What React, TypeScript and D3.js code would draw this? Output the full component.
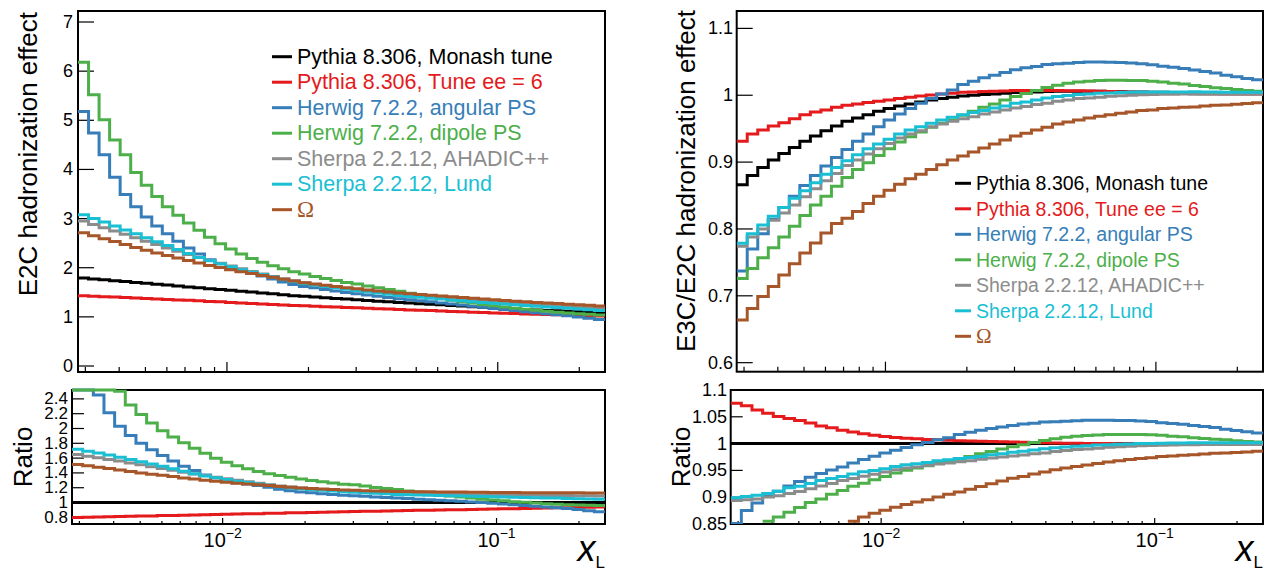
import React from "react";
import * as d3 from "d3";

// ---------- DATA ----------
const LOG_MIN = -2.55;
const LOG_MAX = -0.604;
const NBINS = 50;
const binEdges: number[] = d3.range(NBINS + 1).map((i) => Math.pow(10, LOG_MIN + ((LOG_MAX - LOG_MIN) * i) / NBINS));

const seriesNames = [
  "Pythia 8.306, Monash tune",
  "Pythia 8.306, Tune ee = 6",
  "Herwig 7.2.2, angular PS",
  "Herwig 7.2.2, dipole PS",
  "Sherpa 2.2.12, AHADIC++",
  "Sherpa 2.2.12, Lund",
  "Ω",
];
const seriesColors = ["#000000", "#e41a1c", "#377eb8", "#4daf4a", "#8c8c8c", "#1abfd3", "#a65628"];

// E2C hadronization effect
const e2cMonash = [
  1.790, 1.772, 1.754, 1.736, 1.718, 1.700, 1.682, 1.664, 1.646, 1.628,
  1.610, 1.592, 1.574, 1.557, 1.540, 1.522, 1.504, 1.486, 1.468, 1.450,
  1.432, 1.418, 1.404, 1.390, 1.376, 1.362, 1.348, 1.334, 1.320, 1.306,
  1.292, 1.280, 1.268, 1.256, 1.244, 1.232, 1.220, 1.208, 1.196, 1.184,
  1.172, 1.162, 1.152, 1.142, 1.132, 1.122, 1.112, 1.102, 1.092, 1.082,
];
const e2cTuneEE = [
  1.430, 1.421, 1.411, 1.402, 1.392, 1.383, 1.374, 1.364, 1.355, 1.345,
  1.336, 1.326, 1.315, 1.305, 1.294, 1.284, 1.274, 1.263, 1.253, 1.242,
  1.232, 1.224, 1.216, 1.207, 1.199, 1.191, 1.183, 1.175, 1.166, 1.158,
  1.150, 1.142, 1.134, 1.127, 1.119, 1.111, 1.103, 1.095, 1.088, 1.080,
  1.072, 1.066, 1.060, 1.054, 1.048, 1.042, 1.035, 1.029, 1.023, 1.017,
];
const e2cHerwigAng = [
  5.18, 4.74, 4.30, 3.84, 3.49, 3.24, 3.03, 2.85, 2.69, 2.54,
  2.40, 2.28, 2.16, 2.08, 2.00, 1.93, 1.88, 1.83, 1.77, 1.71,
  1.66, 1.62, 1.59, 1.557, 1.527, 1.498, 1.472, 1.446, 1.42, 1.395,
  1.37, 1.348, 1.326, 1.305, 1.284, 1.263, 1.241, 1.218, 1.195, 1.172,
  1.149, 1.127, 1.106, 1.085, 1.064, 1.043, 1.023, 0.997, 0.972, 0.947,
];
const e2cHerwigDip = [
  6.18, 5.52, 5.01, 4.60, 4.30, 3.94, 3.68, 3.45, 3.24, 3.07,
  2.91, 2.76, 2.62, 2.49, 2.38, 2.28, 2.19, 2.11, 2.04, 1.98,
  1.92, 1.87, 1.82, 1.78, 1.74, 1.70, 1.67, 1.63, 1.59, 1.555,
  1.52, 1.48, 1.45, 1.41, 1.375, 1.34, 1.31, 1.28, 1.25, 1.225,
  1.20, 1.175, 1.155, 1.135, 1.115, 1.095, 1.08, 1.065, 1.052, 1.04,
];
const e2cSherpaAhadic = [
  2.950, 2.880, 2.815, 2.746, 2.680, 2.610, 2.540, 2.471, 2.403, 2.336,
  2.270, 2.208, 2.149, 2.090, 2.033, 1.979, 1.925, 1.872, 1.820, 1.776,
  1.733, 1.695, 1.657, 1.629, 1.603, 1.576, 1.550, 1.526, 1.501, 1.477,
  1.454, 1.436, 1.419, 1.402, 1.385, 1.368, 1.352, 1.336, 1.320, 1.305,
  1.289, 1.277, 1.265, 1.253, 1.241, 1.229, 1.217, 1.204, 1.192, 1.179,
];
const e2cSherpaLund = [
  3.080, 3.000, 2.930, 2.850, 2.770, 2.690, 2.610, 2.530, 2.450, 2.370,
  2.290, 2.210, 2.140, 2.080, 2.020, 1.960, 1.910, 1.860, 1.810, 1.760,
  1.720, 1.680, 1.650, 1.620, 1.590, 1.560, 1.537, 1.510, 1.485, 1.459,
  1.434, 1.416, 1.397, 1.379, 1.361, 1.343, 1.326, 1.309, 1.293, 1.276,
  1.260, 1.246, 1.231, 1.217, 1.203, 1.189, 1.174, 1.159, 1.145, 1.131,
];
const e2cOmega = [
  2.712, 2.653, 2.592, 2.535, 2.474, 2.414, 2.355, 2.301, 2.250, 2.198,
  2.146, 2.097, 2.046, 2.004, 1.960, 1.918, 1.880, 1.843, 1.806, 1.766,
  1.728, 1.695, 1.668, 1.643, 1.617, 1.594, 1.570, 1.547, 1.527, 1.506,
  1.486, 1.469, 1.454, 1.438, 1.423, 1.407, 1.392, 1.377, 1.361, 1.346,
  1.331, 1.319, 1.306, 1.294, 1.283, 1.270, 1.259, 1.246, 1.234, 1.223,
];

// E3C/E2C hadronization effect
const e3cMonash = [
  0.866, 0.880, 0.892, 0.903, 0.913, 0.922, 0.931, 0.939, 0.947, 0.954,
  0.961, 0.966, 0.971, 0.976, 0.980, 0.984, 0.987, 0.990, 0.993, 0.995,
  0.997, 0.999, 1.000, 1.001, 1.002, 1.003, 1.004, 1.0045, 1.005, 1.0055,
  1.006, 1.006, 1.006, 1.006, 1.0058, 1.0055, 1.0053, 1.005, 1.0048, 1.0045,
  1.0043, 1.004, 1.0038, 1.0036, 1.0034, 1.0032, 1.003, 1.003, 1.003, 1.003,
];
const e3cTuneEE = [
  0.931, 0.942, 0.948, 0.954, 0.959, 0.965, 0.971, 0.975, 0.978, 0.982,
  0.985, 0.987, 0.989, 0.991, 0.993, 0.995, 0.997, 0.999, 1.0005, 1.002,
  1.003, 1.0045, 1.005, 1.0055, 1.006, 1.0065, 1.007, 1.007, 1.007, 1.007,
  1.007, 1.0068, 1.0066, 1.0064, 1.006, 1.0055, 1.005, 1.0046, 1.0043, 1.0039,
  1.0036, 1.0032, 1.0029, 1.0026, 1.0024, 1.0022, 1.002, 1.002, 1.002, 1.002,
];
const e3cHerwigAng = [
  0.737, 0.770, 0.793, 0.814, 0.832, 0.849, 0.865, 0.880, 0.894, 0.907,
  0.919, 0.931, 0.942, 0.953, 0.963, 0.972, 0.980, 0.988, 0.995, 1.002,
  1.008, 1.016, 1.021, 1.026, 1.030, 1.034, 1.038, 1.041, 1.043, 1.046,
  1.047, 1.048, 1.049, 1.0496, 1.0497, 1.0493, 1.0488, 1.0482, 1.047, 1.0457,
  1.0435, 1.0417, 1.040, 1.0377, 1.0355, 1.0333, 1.030, 1.0276, 1.025, 1.023,
];
const e3cHerwigDip = [
  0.726, 0.741, 0.757, 0.772, 0.788, 0.804, 0.820, 0.836, 0.849, 0.864,
  0.877, 0.889, 0.899, 0.910, 0.920, 0.930, 0.938, 0.945, 0.952, 0.958,
  0.963, 0.970, 0.976, 0.982, 0.987, 0.993, 0.998, 1.0025, 1.007, 1.0115,
  1.015, 1.018, 1.0198, 1.021, 1.022, 1.0226, 1.0224, 1.022, 1.0219, 1.0211,
  1.0199, 1.018, 1.0168, 1.0146, 1.0129, 1.0112, 1.010, 1.0085, 1.007, 1.006,
];
const e3cSherpaAhadic = [
  0.774, 0.788, 0.800, 0.813, 0.824, 0.836, 0.848, 0.860, 0.872, 0.883,
  0.895, 0.903, 0.912, 0.920, 0.928, 0.936, 0.942, 0.947, 0.953, 0.957,
  0.961, 0.965, 0.968, 0.972, 0.975, 0.978, 0.981, 0.983, 0.986, 0.988,
  0.991, 0.993, 0.995, 0.996, 0.997, 0.9985, 0.9993, 1.000, 1.0008, 1.001,
  1.0013, 1.0015, 1.0018, 1.0016, 1.0016, 1.0015, 1.0014, 1.0014, 1.0014, 1.0014,
];
const e3cSherpaLund = [
  0.7785, 0.793, 0.806, 0.819, 0.832, 0.846, 0.857, 0.869, 0.882, 0.892,
  0.902, 0.911, 0.920, 0.927, 0.934, 0.942, 0.948, 0.953, 0.958, 0.963,
  0.967, 0.971, 0.974, 0.977, 0.981, 0.984, 0.988, 0.990, 0.993, 0.996,
  0.998, 0.9995, 1.001, 1.002, 1.003, 1.0035, 1.004, 1.0044, 1.0048, 1.0048,
  1.0049, 1.005, 1.005, 1.0051, 1.0049, 1.0047, 1.0045, 1.0045, 1.0045, 1.0045,
];
const e3cOmega = [
  0.664, 0.681, 0.699, 0.714, 0.731, 0.748, 0.764, 0.779, 0.794, 0.808,
  0.816, 0.826, 0.838, 0.849, 0.858, 0.867, 0.875, 0.882, 0.889, 0.896,
  0.903, 0.909, 0.915, 0.921, 0.927, 0.933, 0.939, 0.943, 0.948, 0.952,
  0.957, 0.960, 0.963, 0.966, 0.9686, 0.971, 0.973, 0.975, 0.977, 0.978,
  0.980, 0.981, 0.982, 0.9825, 0.984, 0.985, 0.9855, 0.9865, 0.9875, 0.9886,
];

const e2cSeries = [e2cMonash, e2cTuneEE, e2cHerwigAng, e2cHerwigDip, e2cSherpaAhadic, e2cSherpaLund, e2cOmega];
const e3cSeries = [e3cMonash, e3cTuneEE, e3cHerwigAng, e3cHerwigDip, e3cSherpaAhadic, e3cSherpaLund, e3cOmega];

const e2cYTicks = [0, 1, 2, 3, 4, 5, 6, 7];
const e2cRatioYTicks = [0.8, 1, 1.2, 1.4, 1.6, 1.8, 2, 2.2, 2.4];
const e3cYTicks = [0.6, 0.7, 0.8, 0.9, 1, 1.1];
const e3cRatioYTicks = [0.85, 0.9, 0.95, 1, 1.05, 1.1];

// ---------- LAYOUT ----------
const FONT = "'Liberation Sans', Arial, Helvetica, sans-serif";
const SERIF = "'Liberation Serif', 'Times New Roman', serif";

type PanelCfg = {
  id: string;
  x0: number; x1: number; y0: number; y1: number;
  yDomain: [number, number];
  yTicks: number[];
  yTickLen: number;
  labelX: number;
  labelSize: number;
  xMajLen: number; xMinLen: number;
  xLabels: boolean;
};

function ratioOf(list: number[][]): number[][] {
  const ref = list[0];
  return list.map((s) => s.map((v, i) => v / ref[i]));
}

function Panel({ cfg, data }: { cfg: PanelCfg; data: number[][] }) {
  const x = d3.scaleLog().domain([binEdges[0], binEdges[NBINS]]).range([cfg.x0, cfg.x1]);
  const y = d3.scaleLinear().domain(cfg.yDomain).range([cfg.y1, cfg.y0]);
  const [ymin, ymax] = cfg.yDomain;
  const line = d3
    .line<[number, number]>()
    .defined((d) => d[1] >= ymin)
    .x((d) => x(d[0]))
    .y((d) => y(Math.min(d[1], ymax)));
  const xt = x.ticks();
  const isMajor = (t: number) => Math.abs(Math.log10(t) - Math.round(Math.log10(t))) < 1e-6;
  const clipId = `clip-${cfg.id}`;
  return (
    <g>
      <defs>
        <clipPath id={clipId}>
          <rect x={cfg.x0} y={cfg.y0 - 2} width={cfg.x1 - cfg.x0} height={cfg.y1 - cfg.y0 + 2} />
        </clipPath>
      </defs>
      <rect x={cfg.x0} y={cfg.y0} width={cfg.x1 - cfg.x0} height={cfg.y1 - cfg.y0} fill="none" stroke="#000" strokeWidth={2} />
      {cfg.yTicks.map((t) => (
        <g key={`y${t}`}>
          <line x1={cfg.x0} x2={cfg.x0 + cfg.yTickLen} y1={y(t)} y2={y(t)} stroke="#000" strokeWidth={1.2} />
          <text x={cfg.labelX} y={y(t)} textAnchor="end" dominantBaseline="central" fontFamily={FONT} fontSize={cfg.labelSize} fill="#000">
            {String(t)}
          </text>
        </g>
      ))}
      {xt.map((t, i) => (
        <line
          key={`x${i}`}
          x1={x(t)}
          x2={x(t)}
          y1={cfg.y1}
          y2={cfg.y1 - (isMajor(t) ? cfg.xMajLen : cfg.xMinLen)}
          stroke="#000"
          strokeWidth={1.2}
        />
      ))}
      {cfg.xLabels &&
        xt.filter(isMajor).map((t) => (
          <text key={`xl${t}`} x={x(t)} y={547} textAnchor="middle" fontFamily={FONT} fontSize={20} fill="#000">
            10
            <tspan fontSize={14} dy={-9}>
              {"\u2212" + Math.abs(Math.round(Math.log10(t)))}
            </tspan>
          </text>
        ))}
      <g clipPath={`url(#${clipId})`}>
        {data.map((vals, si) => {
          const pts: [number, number][] = vals.flatMap((v, i) => [
            [binEdges[i], v] as [number, number],
            [binEdges[i + 1], v] as [number, number],
          ]);
          return (
            <path
              key={si}
              d={line(pts) || ""}
              fill="none"
              stroke={seriesColors[si]}
              strokeWidth={3}
              strokeLinejoin="miter"
              strokeLinecap="butt"
            />
          );
        })}
      </g>
    </g>
  );
}

function Legend({ x, y0, lineLen, size }: { x: number; y0: number; lineLen: number; size: number }) {
  return (
    <g>
      {seriesNames.map((name, i) => {
        const yy = y0 + i * 25.5;
        const isOmega = name === "Ω";
        return (
          <g key={name}>
            <line x1={x} x2={x + lineLen} y1={yy} y2={yy} stroke={seriesColors[i]} strokeWidth={3} />
            <text
              x={x + lineLen + 5}
              y={yy}
              dominantBaseline="central"
              fontFamily={isOmega ? SERIF : FONT}
              fontSize={isOmega ? size + 1.5 : size}
              fill={seriesColors[i]}
            >
              {name}
            </text>
          </g>
        );
      })}
    </g>
  );
}

function XTitle({ xr }: { xr: number }) {
  return (
    <text x={xr} y={561} textAnchor="end" fontFamily={FONT} fill="#000">
      <tspan fontSize={36} fontStyle="italic">x</tspan>
      <tspan fontSize={17} dy={7}>L</tspan>
    </text>
  );
}

export default function App() {
  const ltop: PanelCfg = {
    id: "ltop", x0: 78, x1: 605, y0: 11, y1: 372, yDomain: [-0.122, 7.224], yTicks: e2cYTicks,
    yTickLen: 16, labelX: 73, labelSize: 18, xMajLen: 10, xMinLen: 5, xLabels: false,
  };
  const lbot: PanelCfg = {
    id: "lbot", x0: 72, x1: 605, y0: 390, y1: 524, yDomain: [0.71, 2.52], yTicks: e2cRatioYTicks,
    yTickLen: 12, labelX: 68, labelSize: 17, xMajLen: 6, xMinLen: 3, xLabels: true,
  };
  const rtop: PanelCfg = {
    id: "rtop", x0: 736.7, x1: 1263, y0: 11, y1: 371.7, yDomain: [0.5865, 1.126], yTicks: e3cYTicks,
    yTickLen: 16, labelX: 733, labelSize: 18, xMajLen: 10, xMinLen: 5, xLabels: false,
  };
  const rbot: PanelCfg = {
    id: "rbot", x0: 730.7, x1: 1263, y0: 390, y1: 524, yDomain: [0.85, 1.1], yTicks: e3cRatioYTicks,
    yTickLen: 12, labelX: 727, labelSize: 18, xMajLen: 6, xMinLen: 3, xLabels: true,
  };
  return (
    <svg
      width={1265}
      height={571}
      viewBox="0 0 1265 571"
      style={{ position: "absolute", left: 0, top: 0, background: "#fff" }}
    >
      <rect x={0} y={0} width={1265} height={571} fill="#fff" />
      <Panel cfg={ltop} data={e2cSeries} />
      <Panel cfg={lbot} data={ratioOf(e2cSeries)} />
      <Panel cfg={rtop} data={e3cSeries} />
      <Panel cfg={rbot} data={ratioOf(e3cSeries)} />

      <Legend x={272} y0={56.7} lineLen={20} size={21.5} />
      <Legend x={955} y0={183.3} lineLen={16} size={19.5} />

      <text transform="translate(37,12) rotate(-90)" textAnchor="end" fontFamily={FONT} fontSize={26} fill="#000">
        E2C hadronization effect
      </text>
      <text transform="translate(695,10) rotate(-90)" textAnchor="end" fontFamily={FONT} fontSize={26} fill="#000">
        E3C/E2C hadronization effect
      </text>
      <text transform="translate(32,457) rotate(-90)" textAnchor="middle" fontFamily={FONT} fontSize={26} fill="#000">
        Ratio
      </text>
      <text transform="translate(690,457) rotate(-90)" textAnchor="middle" fontFamily={FONT} fontSize={26} fill="#000">
        Ratio
      </text>
      <XTitle xr={605} />
      <XTitle xr={1263} />
    </svg>
  );
}
